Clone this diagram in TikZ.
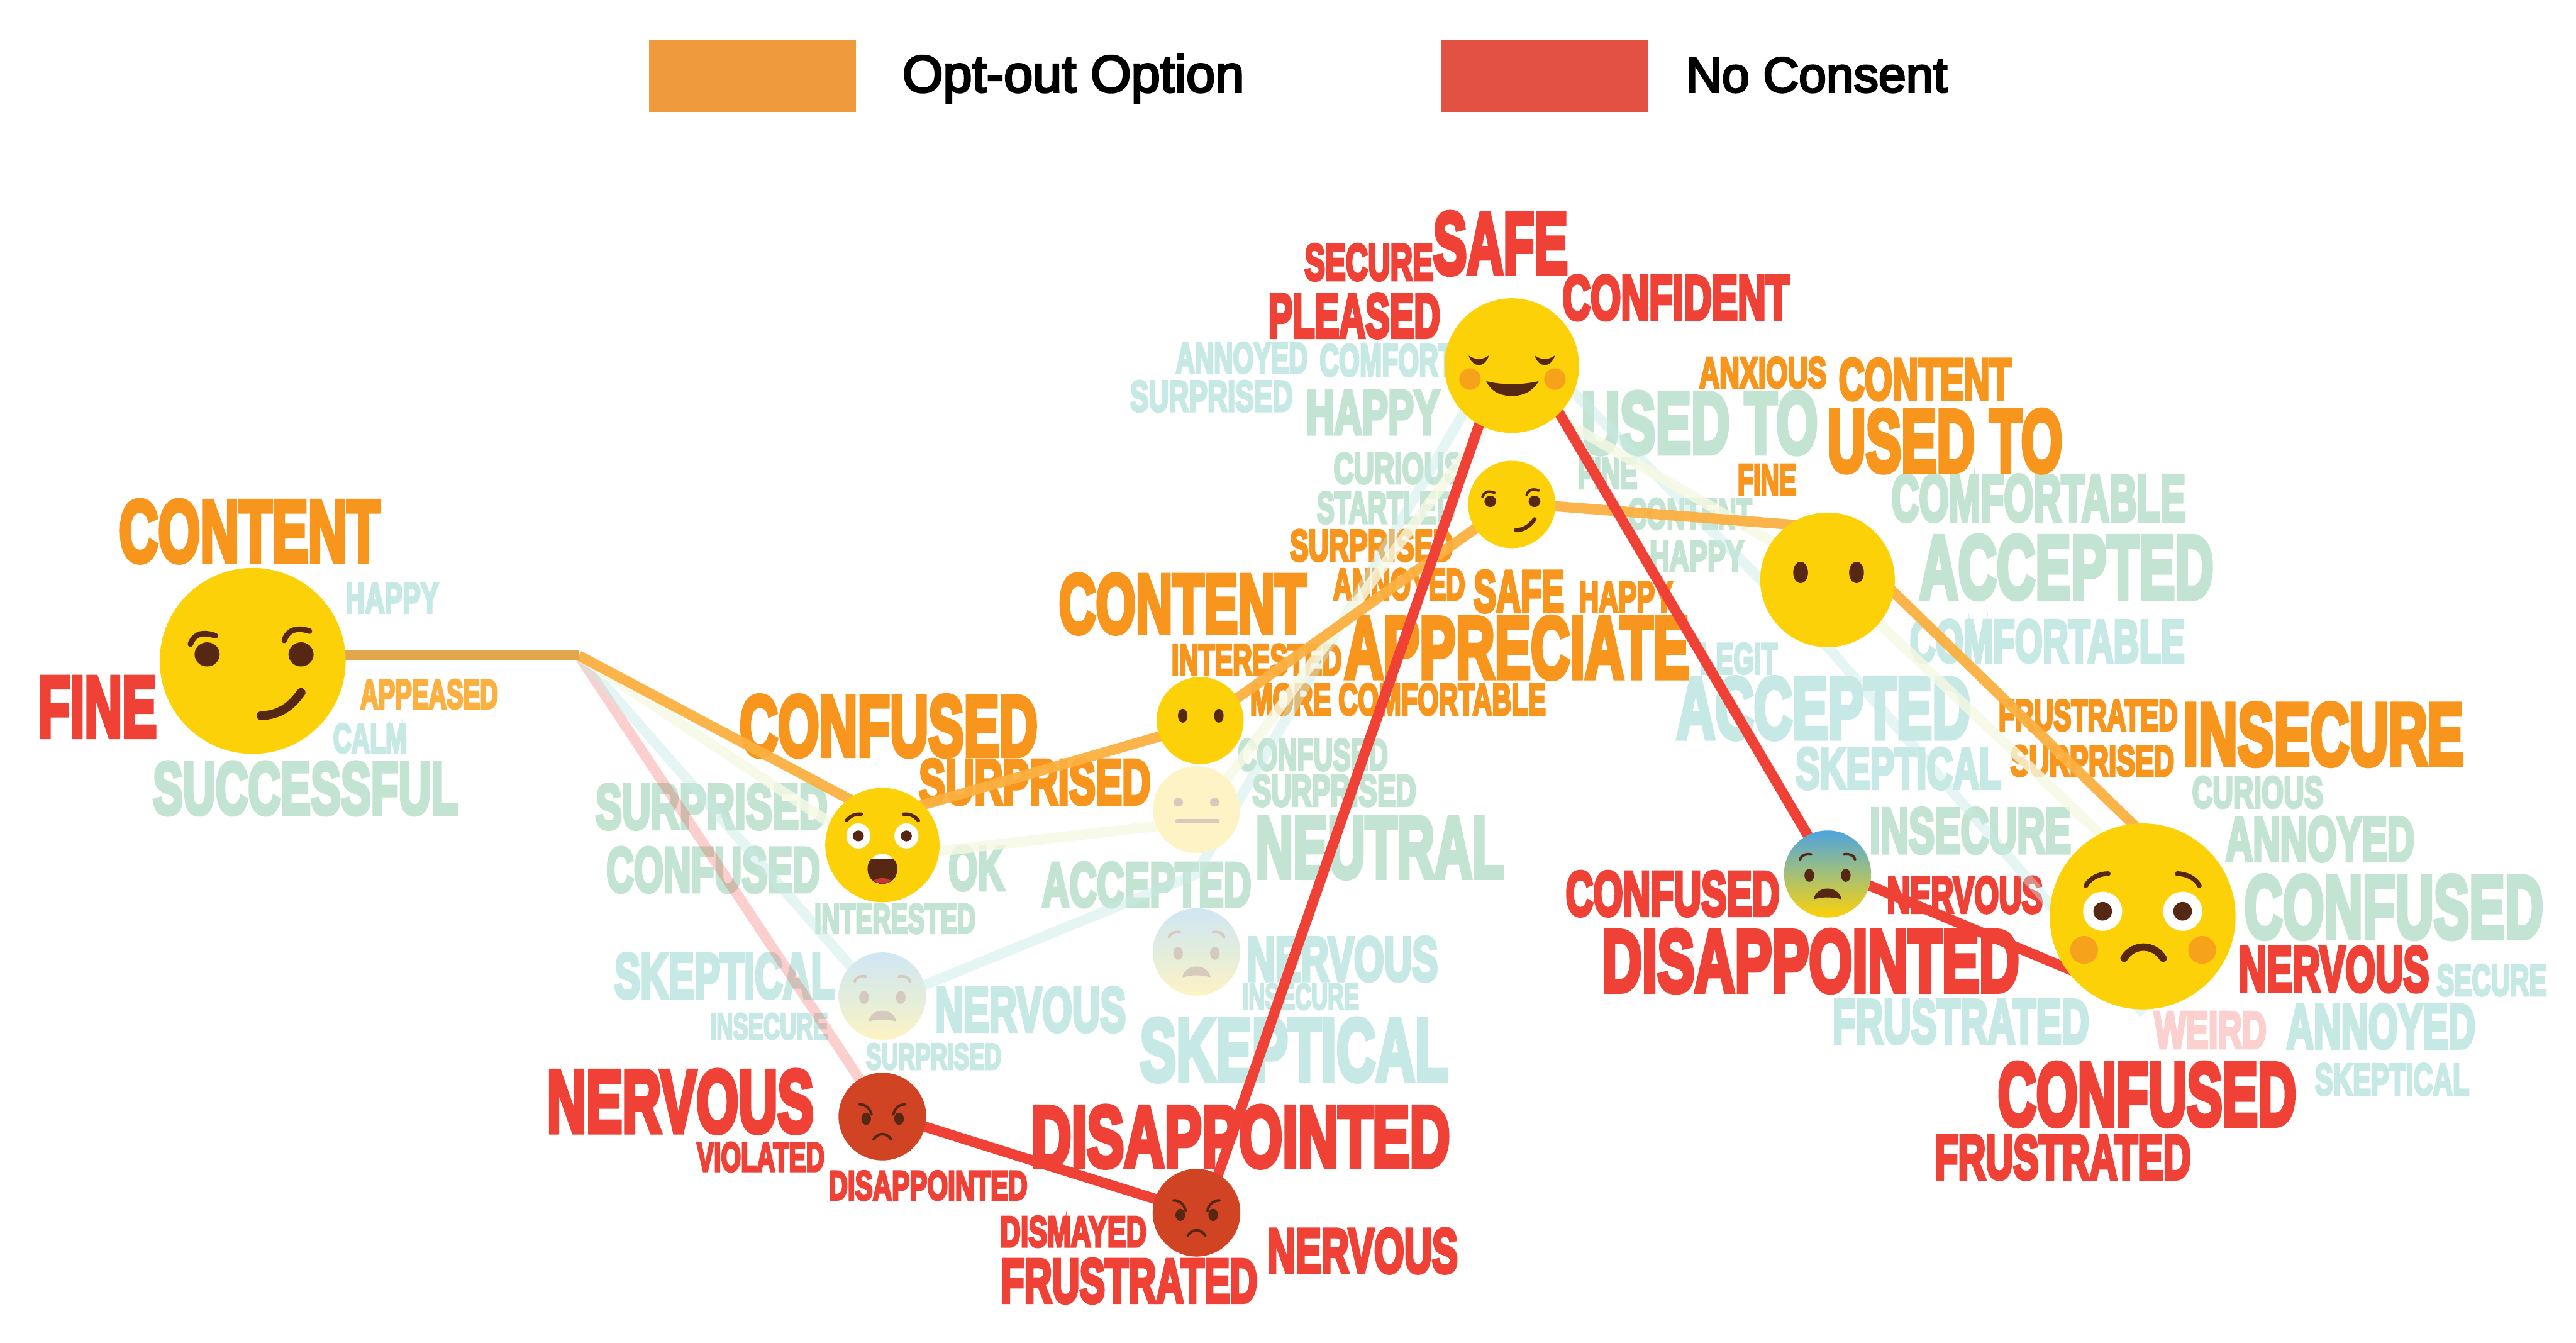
\documentclass[tikz,border=0pt]{standalone}
\usepackage{fontspec}
\usepackage{tikz}
\usetikzlibrary{arrows.meta, positioning, calc}
\newfontfamily\wordfont[FakeBold=6]{Liberation Sans Bold}
\newfontfamily\legendfont[FakeBold=4]{Liberation Sans}
\definecolor{wordorange}{HTML}{F8951D}
\definecolor{wordlight}{HTML}{FBB040}
\definecolor{wordred}{HTML}{EF4136}
\definecolor{wordgreen}{HTML}{C3E4D2}
\definecolor{wordteal}{HTML}{C6E9E6}
\definecolor{wordpink}{HTML}{FBD0CE}
\definecolor{faceyellow}{HTML}{FDD108}
\definecolor{facebrown}{HTML}{562814}
\definecolor{facecheek}{HTML}{F6A31B}
\definecolor{faceangry}{HTML}{D04424}
\definecolor{facepale}{HTML}{FEF3C4}
\definecolor{palebrown}{HTML}{D6C9BE}
\definecolor{paleblue}{HTML}{D0E6F4}
\definecolor{palemid}{HTML}{E2EDDC}
\definecolor{fearblue}{HTML}{4CA4DF}
\definecolor{fearmid}{HTML}{A3C078}
\definecolor{legendorange}{HTML}{EE9A3D}
\definecolor{legendred}{HTML}{E35143}
\definecolor{paleyellow}{HTML}{F6F9E4}
\tikzset{
  wordnode/.style={anchor=base west, inner sep=0pt, font=\wordfont},
  facenode/.style={circle, inner sep=0pt, minimum size=#1*0.04cm},
  legendbox/.style={inner sep=0pt, minimum width=2.52cm, minimum height=0.88cm},
  legendtext/.style={anchor=base west, inner sep=0pt, font=\legendfont},
  optline/.style={wordlight, line width=0.125cm, line join=bevel, opacity=0.95},
  redline/.style={wordred, line width=0.125cm, line join=bevel},
  paleline/.style={line width=0.125cm, line join=bevel}
}
% one word: left, top, right, bottom in picture pixels
\newcommand{\wordgroup}[3]{%
  \foreach \xa/\ya/\xb/\yb/\txt [evaluate=\xa as \ww using (\xb-\xa)*0.02,
      evaluate=\ya as \hh using (\yb-\ya)*0.02, count=\n] in {#3} {
    \node[wordnode, text=#2] (#1\n) at (\xa,\yb) {\resizebox{\ww cm}{\hh cm}{\txt}};
  }}
% face parts, unit is the radius of the face
\newenvironment{faceparts}[2]{\begin{scope}[shift={(#1)}, x=#2*0.02cm, y=-#2*0.02cm, line cap=round, line width=#2*0.0012cm]}{\end{scope}}
\newcommand{\facewink}[2]{\begin{faceparts}{#1}{#2}
  \fill[facebrown] (-0.49,-0.07) ellipse (0.135 and 0.13) (0.52,-0.07) ellipse (0.135 and 0.13);
  \draw[facebrown] (-0.67,-0.18) .. controls (-0.62,-0.31) and (-0.52,-0.31) .. (-0.40,-0.27);
  \draw[facebrown] (0.34,-0.22) .. controls (0.38,-0.35) and (0.50,-0.36) .. (0.61,-0.32);
  \draw[facebrown, line width=#2*0.0019cm] (0.09,0.59) .. controls (0.30,0.58) and (0.42,0.48) .. (0.52,0.34);
  \end{faceparts}}
\newcommand{\facedots}[2]{\begin{faceparts}{#1}{#2}
  \fill[facebrown] (-0.40,-0.11) ellipse (0.11 and 0.16) (0.43,-0.11) ellipse (0.11 and 0.16);
  \end{faceparts}}
\newcommand{\facefear}[3]{\begin{faceparts}{#1}{#2}
  \fill[#3] (-0.42,0.03) ellipse (0.11 and 0.15) (0.42,0.03) ellipse (0.11 and 0.15);
  \draw[#3] (-0.63,-0.34) .. controls (-0.60,-0.43) and (-0.50,-0.47) .. (-0.38,-0.45);
  \draw[#3] (0.63,-0.34) .. controls (0.60,-0.43) and (0.50,-0.47) .. (0.38,-0.45);
  \fill[#3] (-0.32,0.58) .. controls (-0.25,0.25) and (0.25,0.25) .. (0.32,0.58) .. controls (0.1,0.52) and (-0.1,0.52) .. cycle;
  \end{faceparts}}
\newcommand{\faceangry}[2]{\begin{faceparts}{#1}{#2}
  \fill[facebrown] (-0.37,0.05) ellipse (0.11 and 0.14) (0.38,0.05) ellipse (0.11 and 0.14);
  \draw[facebrown] (-0.52,-0.28) .. controls (-0.38,-0.28) and (-0.28,-0.18) .. (-0.25,-0.05);
  \draw[facebrown] (0.52,-0.28) .. controls (0.38,-0.28) and (0.28,-0.18) .. (0.25,-0.05);
  \draw[facebrown] (-0.2,0.52) .. controls (-0.1,0.36) and (0.1,0.36) .. (0.2,0.52);
  \end{faceparts}}
\begin{document}
\begin{tikzpicture}[x=0.02cm, y=-0.02cm]
  \useasboundingbox (0,0) rectangle (1568,817);

  % legend
  \node[legendbox, fill=legendorange] (optbox) at (458,46) {};
  \node[legendbox, fill=legendred] (redbox) at (940,46) {};
  \node[legendtext] (optlabel) at (549,56) {\resizebox{4.16cm}{!}{Opt-out Option}};
  \node[legendtext] (redlabel) at (1026,56) {\resizebox{3.18cm}{!}{No Consent}};

  % words
  \wordgroup{green}{wordgreen}{
    92.7/463.9/278.8/495.3/SUCCESSFUL, 362.1/477.4/503.4/504.2/SURPRISED,
    368.7/515.8/498.9/542.6/CONFUSED, 577/515/611/541.4/OK,
    495.3/550.2/593.5/567.8/INTERESTED, 633.8/525.1/761.3/551.5/ACCEPTED,
    752.9/449.8/844.5/468.6/CONFUSED, 762/471.6/861.7/490.4/SURPRISED,
    763.9/497.5/915/533.9/NEUTRAL, 794.7/238/876/264/HAPPY,
    811.4/275.7/890.1/294.1/CURIOUS, 801.2/299.4/885.8/318.3/STARTLED,
    962.2/238.7/1106.1/275.7/USED TO, 960.2/279/996.3/297.2/FINE,
    990.7/303.4/1066.1/321.8/CONTENT, 1003.8/329.4/1061.2/347.3/HAPPY,
    1151/289/1330/317/COMFORTABLE, 1168/326/1347/364/ACCEPTED,
    1334/472.6/1413.7/491.4/CURIOUS, 1354.3/497.2/1469.3/523.7/ANNOYED,
    1137.7/491.9/1260.3/518.9/INSECURE, 1365.7/532.9/1547.7/570.7/CONFUSED}
  \wordgroup{teal}{wordteal}{
    210/355.1/266.7/372.9/HAPPY, 202.4/440.4/247.2/457.9/CALM,
    758.7/570.3/874.9/596.7/NERVOUS, 755.8/598.7/826.9/614.2/INSECURE,
    693.5/620/881.1/657.4/SKEPTICAL, 373.6/580.3/507.7/607.2/SKEPTICAL,
    568.9/600.9/685/627.5/NERVOUS, 431.9/616.7/503.7/632.3/INSECURE,
    526.8/635.1/609.2/650.6/SURPRISED, 715.3/208.5/795.7/226.9/ANNOYED,
    802.9/209.6/885/228.7/COMFORT, 687.5/231.8/786.5/250.2/SURPRISED,
    1034.3/391.5/1081.5/409.9/LEGIT, 1020.1/412.3/1199.2/449.2/ACCEPTED,
    1162.1/377.4/1329.5/402.7/COMFORTABLE, 1092.6/455.2/1217.8/479.8/SKEPTICAL,
    1482.8/587.1/1549.8/605.7/SECURE, 1115/608.3/1271.3/634.8/FRUSTRATED,
    1391.4/611.2/1506.4/637.7/ANNOYED, 1408.7/647.4/1502.7/666.2/SKEPTICAL}
  \wordgroup{pink}{wordpink}{1310.9/616/1379.2/637.7/WEIRD}
  \wordgroup{light}{wordlight}{219/413.6/302.8/431/APPEASED}
  \wordgroup{orange}{wordorange}{
    72.2/304.6/230.9/341.6/CONTENT, 449.8/423.4/631.2/459.8/CONFUSED,
    559/462.3/700.1/489.2/SURPRISED, 784.8/322.5/884.2/341.3/SURPRISED,
    644.2/349.6/794.7/385/CONTENT, 811.1/346.2/891.4/364.9/ANNOYED,
    896.6/347.3/951.7/372.2/SAFE, 960.9/354.2/1017.9/372.4/HAPPY,
    818/375.5/1027.8/412.5/APPRECIATE, 712.7/392.1/816.3/410.5/INTERESTED,
    760.6/416.1/940.6/434.9/MORE COMFORTABLE, 1034/217.4/1111.4/235.8/ANXIOUS,
    1118.9/218.3/1224/243.1/CONTENT, 1112/249.5/1255/286.8/USED TO,
    1057.3/282.8/1093/300.8/FINE, 1216.1/426/1325.2/444.4/FRUSTRATED,
    1328.6/428/1499.3/465.4/INSECURE, 1223.3/453.8/1323.1/472.1/SURPRISED}
  \wordgroup{red}{wordred}{
    22.9/412.2/95.1/448.3/FINE, 332.6/651.4/494.9/688.8/NERVOUS,
    423.8/695.3/501.5/712.7/VIOLATED, 504/712.7/625/730/DISAPPOINTED,
    627.2/673.2/882.2/709.9/DISAPPOINTED, 608.5/740.3/697.5/758.6/DISMAYED,
    608.9/766.2/765/792.5/FRUSTRATED, 771.2/747.8/887/774.4/NERVOUS,
    793.7/148.6/872/170.3/SECURE, 872/129.3/954/166.4/SAFE,
    771.7/178.8/876.3/205.2/PLEASED, 950.7/167.7/1089/194.3/CONFIDENT,
    952.7/530.4/1082.9/557/CONFUSED, 1148.2/533.6/1243.1/555.3/NERVOUS,
    974.6/566.1/1228.7/603.2/DISAPPOINTED, 1362.3/576.2/1478.2/603.2/NERVOUS,
    1215.7/646.9/1397.3/684.7/CONFUSED, 1177.3/690.8/1333.2/717.3/FRUSTRATED}

  % where the lines bend
  \coordinate (start) at (154,399);
  \coordinate (bend) at (352.4,399);
  \coordinate (opt2) at (537,497);
  \coordinate (opt3) at (730.5,441);
  \coordinate (opt4) at (920,306);
  \coordinate (opt5) at (1112,321);
  \coordinate (opt6) at (1305,508);
  \coordinate (red2) at (537,677.5);
  \coordinate (red3) at (733,739);
  \coordinate (red4) at (920,202);
  \coordinate (red5) at (1112,528);
  \coordinate (red6) at (1305,609);
  \coordinate (teal2) at (537,610);
  \coordinate (teal3) at (728,532);
  \coordinate (teal4) at (920,201);
  \coordinate (teal5) at (1112,393);
  \coordinate (teal6) at (1305,617);
  \coordinate (pale2) at (537,522);
  \coordinate (pale3) at (728,500);
  \coordinate (pale4) at (920,238);
  \coordinate (pale5) at (1112,349);
  \coordinate (pale6) at (1305,533);

  \draw[paleline, color=wordred, opacity=0.25] (bend) -- (red2);
  \draw[paleline, color=wordteal, opacity=0.45] (bend) -- (teal2) -- (teal3) -- (teal4) -- (teal5) -- (teal6);
  \draw[paleline, color=paleyellow, opacity=0.8] (bend) -- (pale2) -- (pale3) -- (pale4) -- (pale5) -- (pale6);
  \draw[optline] (bend) -- (opt2) -- (opt3) -- (opt4) -- (opt5) -- (opt6);
  \draw[paleline, color=wordlight!80!gray] (start) -- (bend);
  \draw[redline] (red2) -- (red3) -- (red4) -- (red5) -- (red6);

  % faces
  \node[facenode=56.6, fill=faceyellow] (fine) at (153.8,402.2) {};
  \facewink{fine}{56.6}
  \node[facenode=34.8, fill=faceyellow] (surprised) at (537.1,514.3) {};
  \begin{faceparts}{surprised}{34.8}
    \fill[white] (-0.42,-0.16) ellipse (0.21 and 0.22) (0.42,-0.16) ellipse (0.21 and 0.22);
    \fill[facebrown] (-0.42,-0.16) ellipse (0.095 and 0.095) (0.42,-0.16) ellipse (0.095 and 0.095);
    \draw[facebrown] (-0.63,-0.43) .. controls (-0.55,-0.52) and (-0.47,-0.55) .. (-0.37,-0.54);
    \draw[facebrown] (0.63,-0.43) .. controls (0.55,-0.52) and (0.47,-0.55) .. (0.37,-0.54);
    \fill[white] (0,0.42) ellipse (0.24 and 0.27);
    \fill[facebrown] (-0.26,0.42) .. controls (-0.26,0.35) and (-0.24,0.28) .. (-0.2,0.25) -- (0.2,0.25) .. controls (0.24,0.28) and (0.26,0.35) .. (0.26,0.42) .. controls (0.26,0.58) and (0.14,0.68) .. (0,0.68) .. controls (-0.14,0.68) and (-0.26,0.58) .. cycle;
    \fill[wordred!85!black] (-0.15,0.62) .. controls (-0.05,0.56) and (0.05,0.56) .. (0.15,0.62) .. controls (0.08,0.69) and (-0.08,0.69) .. cycle;
  \end{faceparts}
  \node[facenode=26.5, fill=faceyellow] (interested) at (730.5,438.5) {};
  \facedots{interested}{26.5}
  \node[facenode=26.5, fill=facepale] (neutral) at (728.3,492.7) {};
  \begin{faceparts}{neutral}{26.5}
    \fill[palebrown] (-0.42,-0.17) ellipse (0.11 and 0.10) (0.42,-0.17) ellipse (0.11 and 0.10);
    \draw[palebrown, line width=26.5*0.002cm] (-0.44,0.26) -- (0.48,0.26);
  \end{faceparts}
  \node[facenode=26.6, top color=paleblue, bottom color=facepale, middle color=palemid] (feara) at (537.1,606.2) {};
  \facefear{feara}{26.6}{palebrown}
  \node[facenode=26.6, top color=paleblue, bottom color=facepale, middle color=palemid] (fearb) at (728.3,579.3) {};
  \facefear{fearb}{26.6}{palebrown}
  \node[facenode=26.7, fill=faceangry] (angrya) at (537.1,679.5) {};
  \faceangry{angrya}{26.7}
  \node[facenode=26.7, fill=faceangry] (angryb) at (728.3,738) {};
  \faceangry{angryb}{26.7}
  \node[facenode=41, fill=faceyellow] (safe) at (920.2,222.5) {};
  \begin{faceparts}{safe}{41}
    \fill[facebrown] (-0.64,-0.15) .. controls (-0.58,0.04) and (-0.40,0.04) .. (-0.34,-0.15) .. controls (-0.44,-0.08) and (-0.54,-0.08) .. cycle;
    \fill[facebrown] (0.64,-0.15) .. controls (0.58,0.04) and (0.40,0.04) .. (0.34,-0.15) .. controls (0.44,-0.08) and (0.54,-0.08) .. cycle;
    \fill[facecheek] (-0.62,0.2) ellipse (0.16 and 0.16) (0.64,0.2) ellipse (0.16 and 0.16);
    \fill[facebrown] (-0.38,0.23) .. controls (-0.15,0.29) and (0.15,0.29) .. (0.40,0.23) .. controls (0.30,0.40) and (0.15,0.45) .. (0,0.45) .. controls (-0.15,0.45) and (-0.30,0.40) .. cycle;
  \end{faceparts}
  \node[facenode=26.6, fill=faceyellow] (content) at (920.2,307) {};
  \facewink{content}{26.6}
  \node[facenode=41, fill=faceyellow] (accepted) at (1112.4,352.9) {};
  \facedots{accepted}{41}
  \node[facenode=26.5, top color=fearblue, bottom color=faceyellow, middle color=fearmid] (nervous) at (1112.4,531.9) {};
  \facefear{nervous}{26.5}{facebrown}
  \node[facenode=56.6, fill=faceyellow] (insecure) at (1304.2,557.7) {};
  \begin{faceparts}{insecure}{56.6}
    \fill[white] (-0.43,-0.055) ellipse (0.21 and 0.21) (0.43,-0.055) ellipse (0.21 and 0.21);
    \fill[facebrown] (-0.43,-0.055) ellipse (0.10 and 0.10) (0.43,-0.055) ellipse (0.10 and 0.10);
    \draw[facebrown, line width=56.6*0.001cm] (-0.61,-0.33) .. controls (-0.57,-0.41) and (-0.47,-0.46) .. (-0.37,-0.46);
    \draw[facebrown, line width=56.6*0.001cm] (0.61,-0.33) .. controls (0.57,-0.41) and (0.47,-0.46) .. (0.37,-0.46);
    \fill[facecheek] (-0.63,0.36) ellipse (0.15 and 0.15) (0.64,0.36) ellipse (0.15 and 0.15);
    \draw[facebrown, line width=56.6*0.0016cm] (-0.2,0.45) .. controls (-0.1,0.29) and (0.12,0.29) .. (0.22,0.45);
  \end{faceparts}
\end{tikzpicture}
\end{document}
